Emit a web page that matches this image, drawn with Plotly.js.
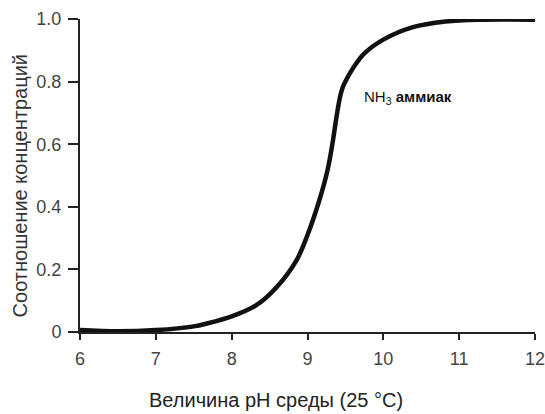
<!DOCTYPE html>
<html>
<head>
<meta charset="utf-8">
<script src="https://cdn.plot.ly/plotly-3.0.1.min.js"></script>
<style>html,body{margin:0;padding:0;background:#fff;}#chart{width:545px;height:414px;}</style>
</head>
<body>
<div id="chart"></div>
<script>
const ph = [6.0, 6.5, 7.0, 7.5, 7.67, 8.0, 8.32, 8.58, 8.855, 9.0, 9.156, 9.264, 9.329, 9.373, 9.405, 9.435, 9.47, 9.52, 9.6, 9.75, 10.0, 10.39, 10.82, 11.26, 12.0];
const fraction = [0.006, 0.002, 0.006, 0.018, 0.027, 0.05, 0.085, 0.14, 0.229, 0.31, 0.421, 0.517, 0.602, 0.672, 0.72, 0.757, 0.785, 0.81, 0.843, 0.89, 0.934, 0.974, 0.992, 0.998, 0.998];
const xTicks = [6, 7, 8, 9, 10, 11, 12];
const xTickLabels = ['6', '7', '8', '9', '10', '11', '12'];
const yTicks = [0, 0.2, 0.4, 0.6, 0.8, 1.0];
const yTickLabels = ['0', '0.2', '0.4', '0.6', '0.8', '1.0'];
const xTitle = 'Величина pH среды (25 °C)';
const yTitle = 'Соотношение концентраций';
const curveLabel = 'NH<sub>3</sub> <b>аммиак</b>';

const trace = {
  x: ph, y: fraction, type: 'scatter', mode: 'lines',
  line: {color: '#111', width: 4.5, shape: 'spline', smoothing: 1},
  hoverinfo: 'skip'
};
const fam = '"Liberation Sans", Arial, sans-serif';
const layout = {
  width: 545, height: 414,
  margin: {l: 79.5, r: 10, t: 18.5, b: 82.3},
  paper_bgcolor: '#fff', plot_bgcolor: '#fff',
  showlegend: false,
  font: {family: fam, size: 18, color: '#444'},
  xaxis: {
    range: [6, 12], tickvals: xTicks, ticktext: xTickLabels,
    showgrid: false, zeroline: false, showline: true, linecolor: '#222', linewidth: 2,
    ticks: 'outside', ticklen: 6, tickwidth: 2, tickcolor: '#222',
    ticklabelstandoff: 3, ticklabeloverflow: 'allow', automargin: false,
    tickfont: {family: fam, size: 18, color: '#444'}
  },
  yaxis: {
    range: [0, 1], tickvals: yTicks, ticktext: yTickLabels,
    showgrid: false, zeroline: false, showline: true, linecolor: '#222', linewidth: 2,
    ticks: 'outside', ticklen: 10, tickwidth: 2, tickcolor: '#222',
    ticklabelstandoff: 3, ticklabeloverflow: 'allow', automargin: false,
    tickfont: {family: fam, size: 18, color: '#444'}
  },
  annotations: [
    {
      x: 9.72, y: 0.75, xref: 'x', yref: 'y', xanchor: 'left', yanchor: 'middle',
      text: curveLabel, showarrow: false,
      font: {family: fam, size: 15, color: '#111'}
    },
    {
      x: 0.431, y: -0.218, xref: 'paper', yref: 'paper', xanchor: 'center', yanchor: 'middle',
      text: xTitle, showarrow: false,
      font: {family: fam, size: 20, color: '#222'}
    },
    {
      x: -0.1328, y: 0.467, xref: 'paper', yref: 'paper', xanchor: 'center', yanchor: 'middle',
      text: yTitle, showarrow: false, textangle: -90,
      font: {family: fam, size: 20, color: '#333'}
    }
  ]
};
Plotly.newPlot('chart', [trace], layout, {displayModeBar: false, staticPlot: true});
</script>
</body>
</html>
